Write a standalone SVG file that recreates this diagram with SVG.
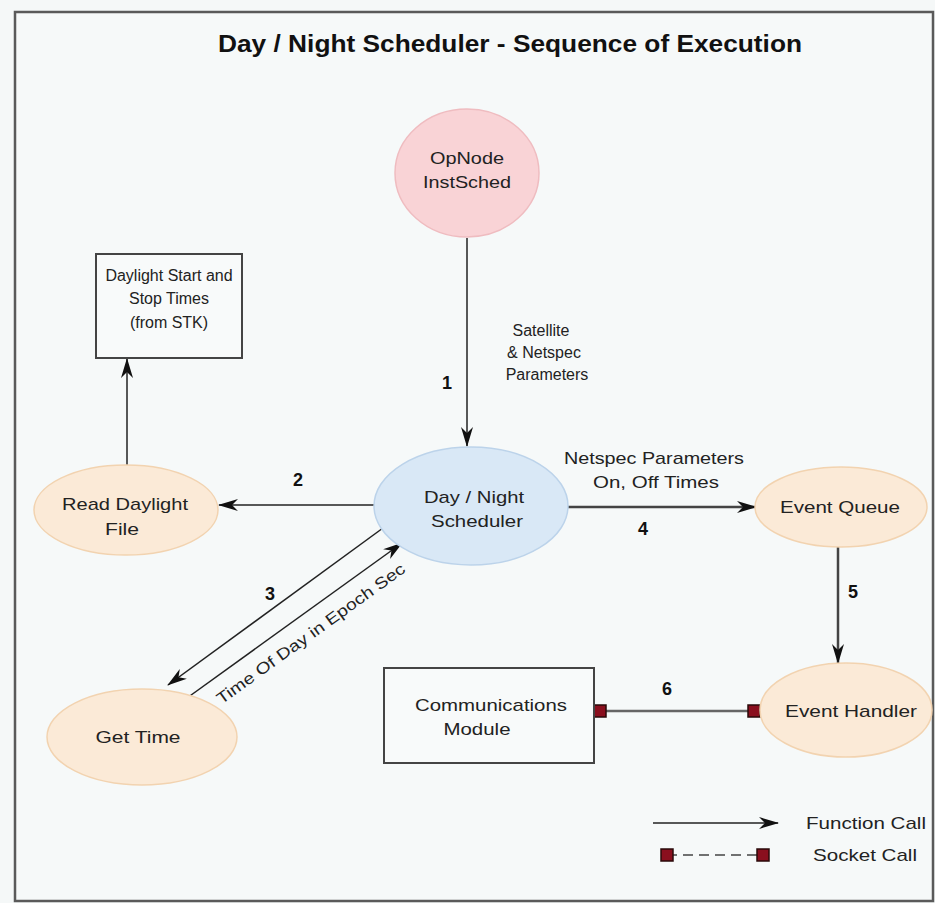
<svg xmlns="http://www.w3.org/2000/svg" width="935" height="903" viewBox="0 0 935 903">
<defs>
<style>
.lbl{font-family:"Liberation Sans",Arial,sans-serif;font-size:17px;fill:#222;text-anchor:middle}
.sm{font-family:"Liberation Sans",Arial,sans-serif;font-size:16px;fill:#222;text-anchor:middle}
.num{font-family:"Liberation Sans",Arial,sans-serif;font-size:18px;font-weight:bold;fill:#111;text-anchor:middle}
.edge{stroke:#222;stroke-width:1.5;fill:none}
.thick{stroke:#444;stroke-width:2.5;fill:none}
.pink{fill:#f9d3d6;stroke:#efbcc0;stroke-width:1.5}
.blue{fill:#d9e8f6;stroke:#bcd3ea;stroke-width:1.5}
.peach{fill:#fbead7;stroke:#f2d3b0;stroke-width:1.5}
.box{fill:#f8fafa;stroke:#444;stroke-width:2}
.sock{fill:#8a0f1e;stroke:#2a0a0a;stroke-width:1.5}
</style>
<marker id="arr" viewBox="0 0 20 12" refX="19" refY="6" markerWidth="20" markerHeight="12" markerUnits="userSpaceOnUse" orient="auto">
<path d="M0,0 L20,6 L0,12 L6,6 z" fill="#111"/>
</marker>
</defs>
<rect x="0" y="0" width="935" height="903" fill="#f5f8f8"/>
<rect x="15" y="12" width="918" height="889" fill="#f6f9f9" stroke="#5a5a5a" stroke-width="2.5"/>
<text x="510" y="52" font-family="Liberation Sans,Arial,sans-serif" font-size="24" font-weight="bold" fill="#111" text-anchor="middle" textLength="584" lengthAdjust="spacingAndGlyphs">Day / Night Scheduler - Sequence of Execution</text>

<g id="connectors">
<line class="edge" x1="467" y1="238" x2="467" y2="446" marker-end="url(#arr)"/>
<line class="edge" x1="374" y1="505" x2="219" y2="505" marker-end="url(#arr)"/>
<line class="edge" x1="127" y1="467" x2="127" y2="359" stroke-width="2" marker-end="url(#arr)"/>
<line class="thick" x1="568" y1="507" x2="756" y2="507" marker-end="url(#arr)"/>
<line class="thick" x1="838" y1="547" x2="838" y2="663" marker-end="url(#arr)"/>
<line class="edge" x1="383" y1="528" x2="168" y2="685" marker-end="url(#arr)"/>
<line class="edge" x1="187" y1="698" x2="402" y2="543" marker-end="url(#arr)"/>
<line x1="600" y1="711" x2="754" y2="711" stroke="#666" stroke-width="2.5"/>
<rect class="sock" x="594" y="705" width="12" height="12"/>
<rect class="sock" x="748" y="705" width="12" height="12"/>
<text class="num" x="447" y="389">1</text>
<text class="sm" x="541" y="336">Satellite</text>
<text class="sm" x="544" y="358">&amp; Netspec</text>
<text class="sm" x="547" y="380">Parameters</text>
<text class="num" x="298" y="486">2</text>
<text class="num" x="270" y="600">3</text>
<text class="sm" x="0" y="0" font-size="15" transform="translate(314,638) rotate(-35.8)" textLength="228" lengthAdjust="spacingAndGlyphs">Time Of Day in Epoch Sec</text>
<text class="lbl" x="654" y="464" textLength="180" lengthAdjust="spacingAndGlyphs">Netspec Parameters</text>
<text class="lbl" x="656" y="488" textLength="126" lengthAdjust="spacingAndGlyphs">On, Off Times</text>
<text class="num" x="643" y="535">4</text>
<text class="num" x="853" y="598">5</text>
<text class="num" x="667" y="695">6</text>
</g>

<g id="opnode">
<ellipse class="pink" cx="467" cy="173" rx="72" ry="64"/>
<text class="lbl" x="467" y="164" font-size="18" textLength="74" lengthAdjust="spacingAndGlyphs">OpNode</text>
<text class="lbl" x="467" y="188" font-size="18" textLength="88" lengthAdjust="spacingAndGlyphs">InstSched</text>
</g>
<g id="scheduler">
<ellipse class="blue" cx="471" cy="506" rx="97" ry="59"/>
<text class="lbl" x="474" y="503" textLength="100" lengthAdjust="spacingAndGlyphs">Day / Night</text>
<text class="lbl" x="477" y="527" textLength="92" lengthAdjust="spacingAndGlyphs">Scheduler</text>
</g>
<g id="daylight-box">
<rect class="box" x="96" y="254" width="146" height="104"/>
<text class="sm" x="169" y="281">Daylight Start and</text>
<text class="sm" x="169" y="304">Stop Times</text>
<text class="sm" x="169" y="328">(from STK)</text>
</g>
<g id="read-daylight">
<ellipse class="peach" cx="126" cy="510" rx="92" ry="45"/>
<text class="lbl" x="125" y="510" textLength="126" lengthAdjust="spacingAndGlyphs">Read Daylight</text>
<text class="lbl" x="122" y="535" textLength="34" lengthAdjust="spacingAndGlyphs">File</text>
</g>
<g id="get-time">
<ellipse class="peach" cx="142" cy="737" rx="95" ry="48"/>
<text class="lbl" x="138" y="743" textLength="85" lengthAdjust="spacingAndGlyphs">Get Time</text>
</g>
<g id="event-queue">
<ellipse class="peach" cx="841" cy="507" rx="86" ry="40"/>
<text class="lbl" x="840" y="513" textLength="120" lengthAdjust="spacingAndGlyphs">Event Queue</text>
</g>
<g id="event-handler">
<ellipse class="peach" cx="846" cy="710" rx="86" ry="47"/>
<text class="lbl" x="851" y="717" textLength="132" lengthAdjust="spacingAndGlyphs">Event Handler</text>
</g>
<g id="comms">
<rect class="box" x="384" y="668" width="210" height="95"/>
<text class="lbl" x="491" y="711" textLength="152" lengthAdjust="spacingAndGlyphs">Communications</text>
<text class="lbl" x="477" y="735" textLength="67" lengthAdjust="spacingAndGlyphs">Module</text>
</g>
<g id="legend">
<line class="edge" x1="653" y1="823" x2="778" y2="823" marker-end="url(#arr)"/>
<text class="lbl" x="866" y="829" textLength="120" lengthAdjust="spacingAndGlyphs">Function Call</text>
<line x1="667" y1="855" x2="763" y2="855" stroke="#444" stroke-width="1.5" stroke-dasharray="10,6"/>
<rect class="sock" x="661" y="849" width="12" height="12"/>
<rect class="sock" x="757" y="849" width="12" height="12"/>
<text class="lbl" x="865" y="861" textLength="104" lengthAdjust="spacingAndGlyphs">Socket Call</text>
</g>
</svg>
